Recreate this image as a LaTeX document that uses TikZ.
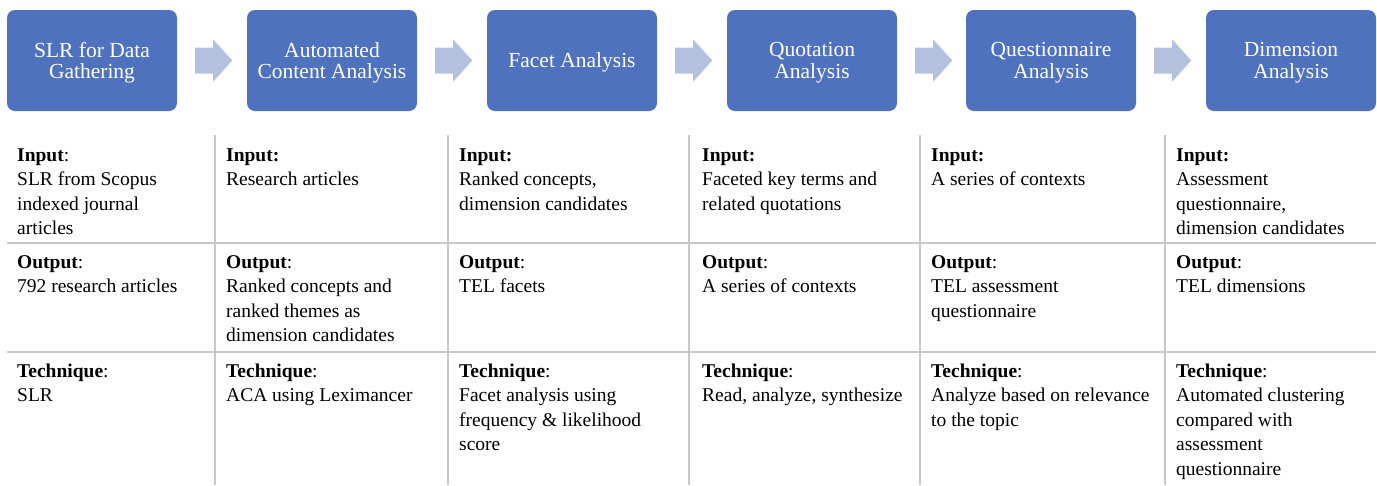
\documentclass[tikz,border=0pt]{standalone}
\usepackage{fontspec}
\setmainfont{Liberation Serif}
\usetikzlibrary{calc}
\definecolor{stageblue}{RGB}{79,114,190}
\definecolor{arrowblue}{RGB}{180,193,222}
\definecolor{gridgray}{RGB}{200,200,200}
\begin{document}
\begin{tikzpicture}[x=1pt,y=-1pt,
  stage/.style={fill=stageblue, rounded corners=8pt, minimum width=170pt, minimum height=101pt,
    text=white, font=\fontsize{21.5pt}{21.5pt}\selectfont, align=center, inner sep=0pt, text depth=0pt},
  cell/.style={anchor=north west, inner sep=0pt, align=left, font=\fontsize{19.5pt}{24.5pt}\selectfont},
  gridline/.style={draw=gridgray, line width=1.3pt},
  flow/.style={fill=arrowblue}]
\useasboundingbox (0,0) rectangle (1377,485);

% stages
\node[stage] (s1) at (92,60.5)   {SLR for Data\\Gathering};
\node[stage] (s2) at (332,60.5)  {Automated\\Content Analysis};
\node[stage] (s3) at (572,60.5)  {Facet Analysis};
\node[stage] (s4) at (812,60.5)  {Quotation\\Analysis};
\node[stage] (s5) at (1051,60.5) {Questionnaire\\Analysis};
\node[stage] (s6) at (1291,60.5) {Dimension\\Analysis};

% block arrows
\foreach \a in {s1,s2,s3,s4,s5}{
  \fill[flow] ($(\a.east)+(18,-13)$) -- ($(\a.east)+(36,-13)$) -- ($(\a.east)+(36,-21)$)
    -- ($(\a.east)+(55,0)$) -- ($(\a.east)+(36,21)$) -- ($(\a.east)+(36,13)$)
    -- ($(\a.east)+(18,13)$) -- cycle;
}

% table grid
\draw[gridline] (7,243) -- (1376,243);
\draw[gridline] (7,352) -- (1376,352);
\foreach \x in {215,448,689,920,1165}{
  \draw[gridline] (\x,135) -- (\x,485);
}

% column 1
\node[cell] (i1) at (17,144) {\strut\textbf{Input}:\\SLR from Scopus\\indexed journal\\articles};
\node[cell] (o1) at (17,251) {\strut\textbf{Output}:\\792 research articles};
\node[cell] (t1) at (17,360) {\strut\textbf{Technique}:\\SLR};
% column 2
\node[cell] (i2) at (226,144) {\strut\textbf{Input:}\\Research articles};
\node[cell] (o2) at (226,251) {\strut\textbf{Output}:\\Ranked concepts and\\ranked themes as\\dimension candidates};
\node[cell] (t2) at (226,360) {\strut\textbf{Technique}:\\ACA using Leximancer};
% column 3
\node[cell] (i3) at (459,144) {\strut\textbf{Input:}\\Ranked concepts,\\dimension candidates};
\node[cell] (o3) at (459,251) {\strut\textbf{Output}:\\TEL facets};
\node[cell] (t3) at (459,360) {\strut\textbf{Technique}:\\Facet analysis using\\frequency \& likelihood\\score};
% column 4
\node[cell] (i4) at (702,144) {\strut\textbf{Input:}\\Faceted key terms and\\related quotations};
\node[cell] (o4) at (702,251) {\strut\textbf{Output}:\\A series of contexts};
\node[cell] (t4) at (702,360) {\strut\textbf{Technique}:\\Read, analyze, synthesize};
% column 5
\node[cell] (i5) at (931,144) {\strut\textbf{Input:}\\A series of contexts};
\node[cell] (o5) at (931,251) {\strut\textbf{Output}:\\TEL assessment\\questionnaire};
\node[cell] (t5) at (931,360) {\strut\textbf{Technique}:\\Analyze based on relevance\\to the topic};
% column 6
\node[cell] (i6) at (1176,144) {\strut\textbf{Input:}\\Assessment\\questionnaire,\\dimension candidates};
\node[cell] (o6) at (1176,251) {\strut\textbf{Output}:\\TEL dimensions};
\node[cell] (t6) at (1176,360) {\strut\textbf{Technique}:\\Automated clustering\\compared with\\assessment\\questionnaire};
\end{tikzpicture}
\end{document}
